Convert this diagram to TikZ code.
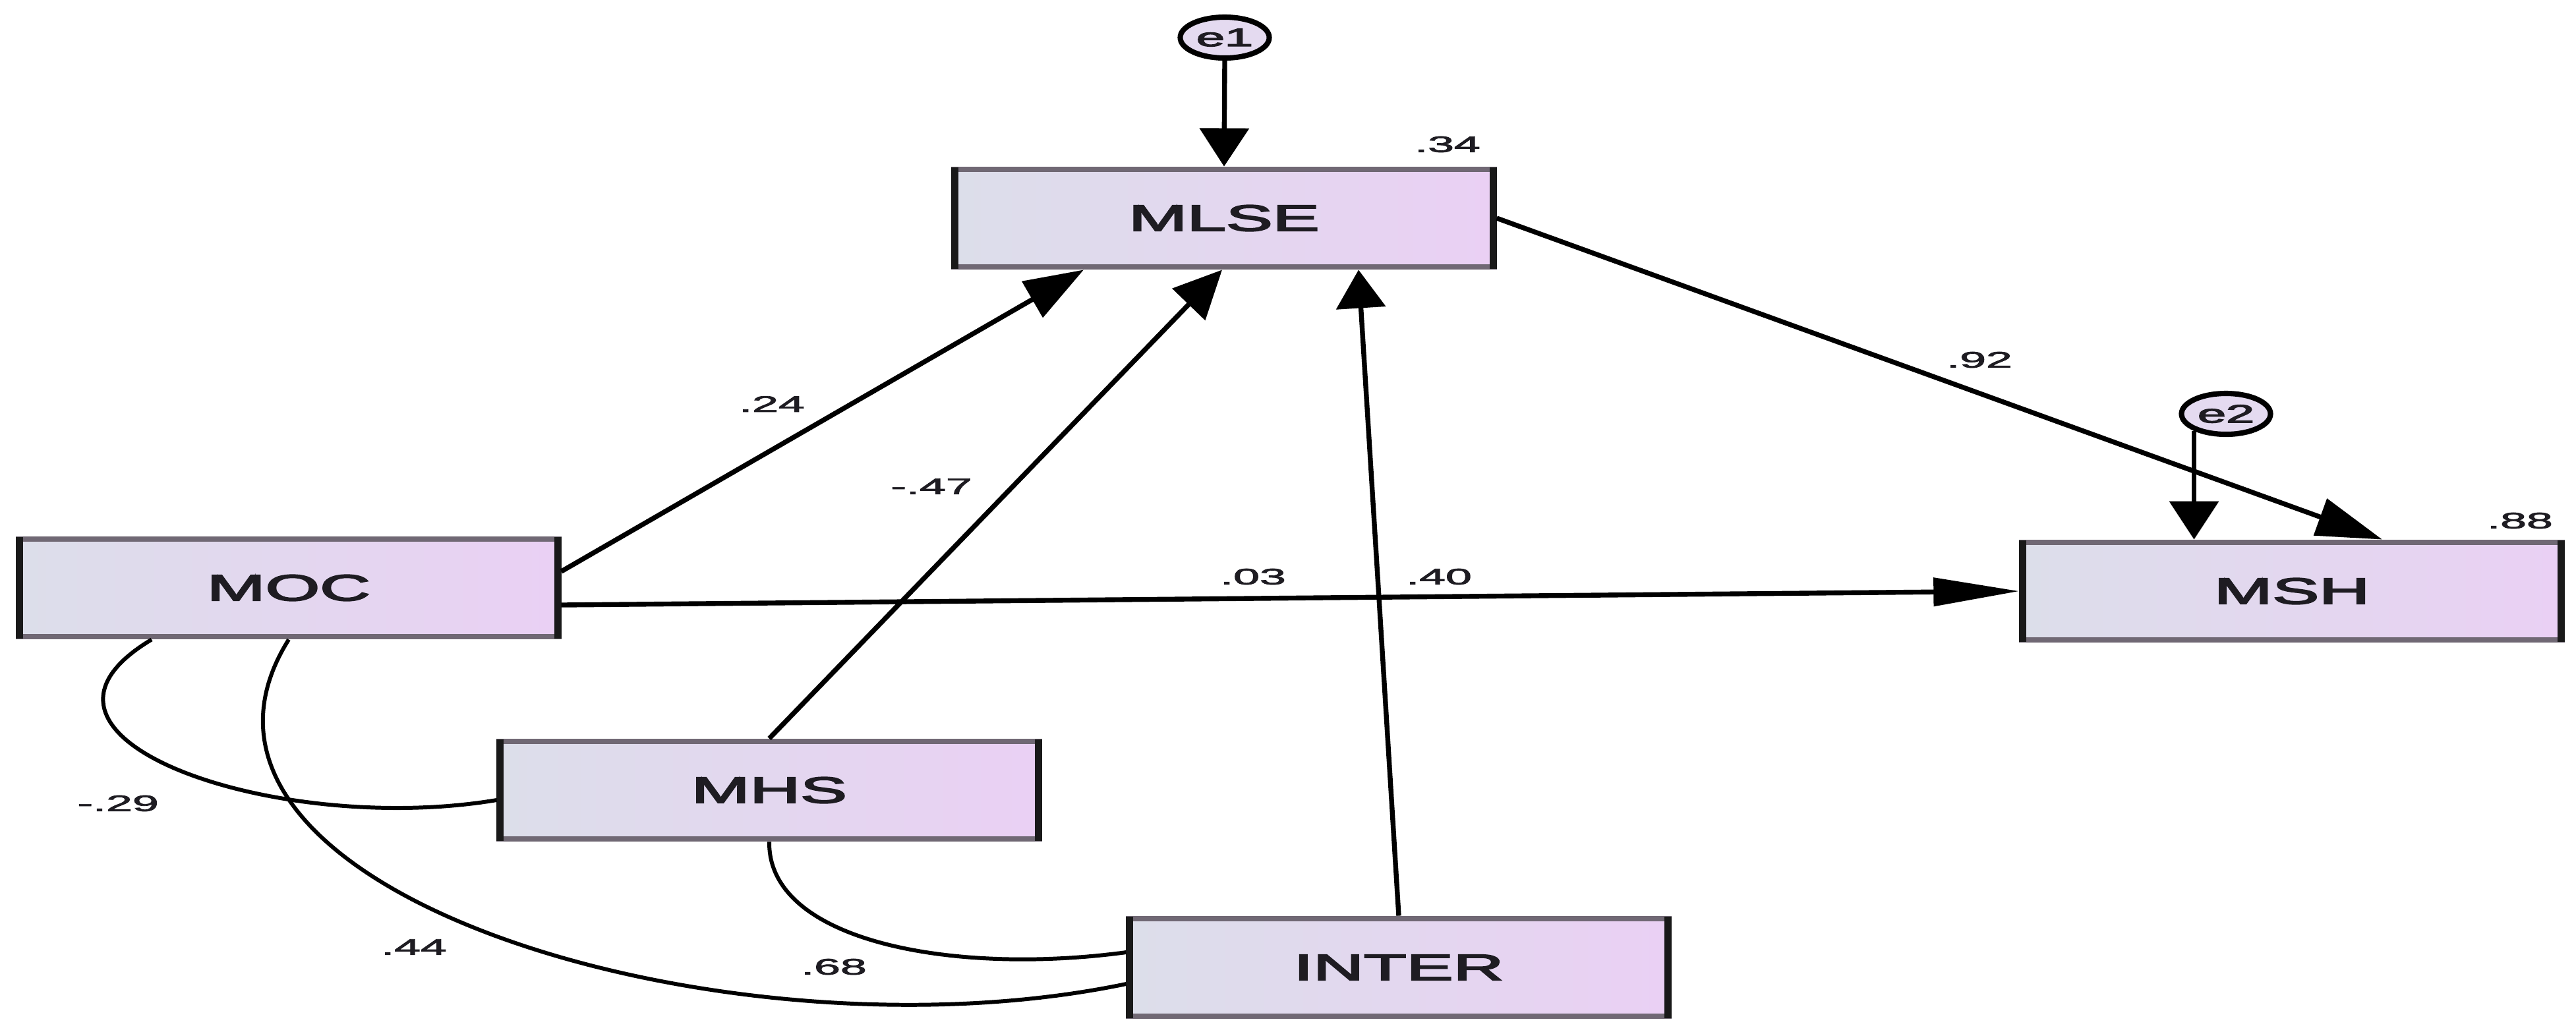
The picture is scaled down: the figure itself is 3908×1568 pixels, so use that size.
\documentclass[tikz,border=0pt]{standalone}
\usepackage{fontspec}
\setmainfont{Liberation Sans}
\newfontfamily\boxfont{Liberation Sans}[FakeBold=3]
\newfontfamily\lblfont{Liberation Sans}[FakeBold=2]
\usetikzlibrary{arrows.meta,shapes.geometric,calc}
\definecolor{boxL}{RGB}{220,222,234}
\definecolor{boxR}{RGB}{234,208,244}
\definecolor{boxB}{RGB}{112,104,116}
\definecolor{errF}{RGB}{228,218,240}
\definecolor{txt}{RGB}{30,28,34}
\tikzset{
  var/.style={rectangle, minimum width=8.18cm, minimum height=1.48cm,
    left color=boxL, right color=boxR, draw=boxB, line width=2.5pt,
    inner sep=0pt, text=txt, font=\boxfont\fontsize{15.9}{16}\selectfont},
  side/.style={draw=black!90, line width=3pt},
  err/.style={ellipse, minimum width=1.35cm, minimum height=0.62cm,
    fill=errF, draw=black, line width=2.3pt, inner sep=0pt, text=txt,
    font=\boxfont\fontsize{11}{11}\selectfont},
  lbl/.style={inner sep=0pt, text=txt, font=\lblfont\fontsize{9.7}{10}\selectfont},
  conn/.style={line width=2.1pt, draw=black},
  cov/.style={line width=1.7pt, draw=black},
  tipV/.style={-{Triangle[length=0.58cm,width=0.74cm]}},
  tipH/.style={-{Triangle[length=1.3cm,width=0.42cm]}},
  tipDa/.style={-{Triangle[length=0.9cm,width=0.62cm]}},
  tipDb/.style={-{Triangle[length=0.73cm,width=0.68cm]}},
  tipDc/.style={-{Triangle[length=1.0cm,width=0.58cm]}}
}
\begin{document}
\begin{tikzpicture}[x=0.01cm,y=-0.01cm]
\useasboundingbox[fill=white] (0,0) rectangle (3908,1568);
% variables
\node[var] (MLSE)  at (1857,331)  {\scalebox{1.9}[1]{MLSE}};
\node[var] (MOC)   at (438,892)   {\scalebox{1.9}[1]{MOC}};
\node[var] (MSH)   at (3477,897)  {\scalebox{1.9}[1]{MSH}};
\node[var] (MHS)   at (1167,1199) {\scalebox{1.9}[1]{MHS}};
\node[var] (INTER) at (2122,1468) {\scalebox{1.9}[1]{INTER}};
\foreach \n in {MLSE,MOC,MSH,MHS,INTER}
  \draw[side] ([xshift=1.4pt,yshift=-0.3pt]\n.north west) -- ([xshift=1.4pt,yshift=0.3pt]\n.south west)
              ([xshift=-1.4pt,yshift=-0.3pt]\n.north east) -- ([xshift=-1.4pt,yshift=0.3pt]\n.south east);
% errors
\node[err] (e1) at (1858,57)  {\scalebox{2}[1]{e1}};
\node[err] (e2) at (3377,628) {\scalebox{2}[1]{e2}};
% covariances
\draw[cov] ($(MOC.south)+(-208,0)$) .. controls (-20,1120) and (420,1270) .. ($(MHS.west)+(0,15)$);
\draw[cov] (MOC.south) .. controls (200,1350) and (1100,1620) .. ($(INTER.west)+(0,25)$);
\draw[cov] (MHS.south) .. controls (1165,1430) and (1450,1480) .. ($(INTER.west)+(0,-23)$);
% regressions
\draw[conn,tipDa] ($(MOC.east)+(0,-25)$) -- ($(MLSE.south)+(-213,0)$);
\draw[conn,tipDb] (MHS.north) -- ($(MLSE.south)+(-3,0)$);
\draw[conn,tipV] (INTER.north) -- ($(MLSE.south)+(204,0)$);
\draw[conn,tipDc] (MLSE.east) -- ($(MSH.north)+(137,0)$);
\draw[conn,tipH] ($(MOC.east)+(0,26)$) -- (MSH.west);
\draw[conn,tipV] (e1.south) -- (MLSE.north);
\draw[conn,tipV] (e2.208.6) -- (e2.208.6 |- MSH.north);
% labels
\node[lbl] (l34) at (2196,219)  {\scalebox{2.1}[1]{.34}};
\node[lbl] (l88) at (3823,790)  {\scalebox{2.1}[1]{.88}};
\node[lbl] (l24) at (1171,613)  {\scalebox{2.1}[1]{.24}};
\node[lbl] (l47) at (1413,738)  {\scalebox{2.1}[1]{-.47}};
\node[lbl] (l92) at (3003,546)  {\scalebox{2.1}[1]{.92}};
\node[lbl] (l03) at (1901,875)  {\scalebox{2.1}[1]{.03}};
\node[lbl] (l40) at (2183,875)  {\scalebox{2.1}[1]{.40}};
\node[lbl] (l29) at (179,1219)  {\scalebox{2.1}[1]{-.29}};
\node[lbl] (l44) at (628,1437)  {\scalebox{2.1}[1]{.44}};
\node[lbl] (l68) at (1265,1467) {\scalebox{2.1}[1]{.68}};
\end{tikzpicture}
\end{document}
